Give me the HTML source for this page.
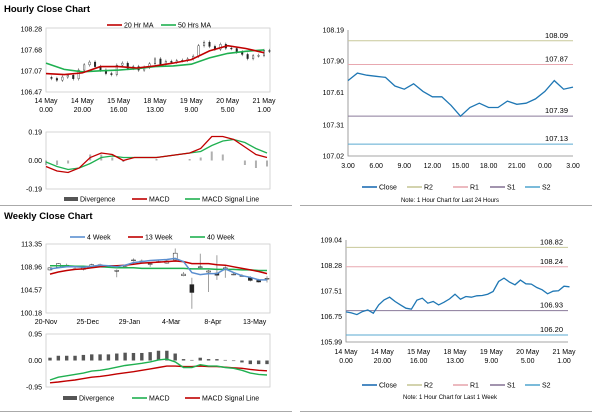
<!DOCTYPE html>
<html><head><meta charset="utf-8"><style>
body{margin:0;background:#fff;}
svg{display:block;font-family:"Liberation Sans",Arial,sans-serif;}
</style></head><body>
<svg id="c" width="600" height="413" viewBox="0 0 600 413"></svg>
<script>
// ---------- data ----------
const hourBars = [0,3,6,9,12,15,18,21,24,27,30,33,36,39,42,45,48,51,54,57,60,63,66,69,72,75,78,81,84,87,90,93,96,99,102,105,108,111,114,117,120,123];
const weekClose = [106.89,106.86,106.81,106.9,106.95,106.85,107.1,107.25,107.33,107.2,107.1,107.0,106.97,107.24,107.3,107.15,107.2,107.1,107.18,107.28,107.42,107.27,107.35,107.33,107.37,107.38,107.42,107.5,107.8,107.9,107.78,107.7,107.84,107.73,107.72,107.62,107.55,107.43,107.51,107.52,107.66,107.64];
const maBars = [0,10,20,30,40,50,60,70,80,90,100,110,120];
const ma20 = [107.0,106.97,107.02,107.2,107.2,107.16,107.22,107.3,107.4,107.65,107.8,107.72,107.6];
const ma50 = [107.3,107.12,107.05,107.08,107.1,107.14,107.2,107.22,107.27,107.45,107.58,107.64,107.68];
const macdBars = [0,6,12,18,24,30,36,42,48,54,60,66,72,78,84,90,96,102,108,114,120];
const hMacd = [-0.04,-0.07,-0.08,-0.05,0.02,0.05,0.04,0.0,0.02,0.02,0.02,0.03,0.04,0.05,0.08,0.16,0.16,0.14,0.09,0.04,0.02];
const hSignal = [-0.01,-0.04,-0.06,-0.05,-0.02,0.02,0.03,0.02,0.02,0.02,0.02,0.03,0.04,0.05,0.06,0.10,0.13,0.14,0.12,0.08,0.05];
const hDiv = [-0.03,-0.03,-0.02,0.0,0.04,0.04,0.02,-0.01,0.0,0.0,0.01,0.0,0.0,0.01,0.02,0.06,0.04,0.0,-0.03,-0.05,-0.04];
const hTicksX = ["14 May|0.00","14 May|20.00","15 May|16.00","18 May|13.00","19 May|9.00","20 May|5.00","21 May|1.00"];
const dayClose = [107.72,107.79,107.77,107.76,107.75,107.67,107.64,107.69,107.62,107.57,107.57,107.49,107.39,107.47,107.51,107.47,107.47,107.53,107.50,107.51,107.55,107.62,107.72,107.64,107.66];
const dayTicks = ["3.00","6.00","9.00","12.00","15.00","18.00","21.00","0.00","3.00"];
const dayLevels = [108.09,107.87,107.39,107.13];
const weekLevels = [108.82,108.24,106.93,106.20];
const levelNames = ["R2","R1","S1","S2"];
const wOpen  = [108.4,108.9,109.3,108.6,108.5,109.0,109.4,109.1,108.3,108.9,110.3,110.1,109.6,110.0,109.7,110.3,107.3,105.6,109.0,108.0,107.8,108.8,107.6,107.3,106.9,106.4,106.8];
const wClose = [108.8,109.6,109.1,108.6,108.8,109.4,109.1,109.0,108.3,109.0,110.3,110.1,109.6,110.0,110.1,111.6,107.6,104.1,109.0,108.2,107.4,108.8,107.6,107.3,106.4,106.1,106.8];
const wHigh  = [108.9,109.7,109.6,108.9,109.0,109.6,109.6,109.3,108.5,109.2,110.6,110.4,109.8,110.3,110.4,112.5,108.0,106.9,111.5,108.4,111.2,109.4,108.0,107.6,107.2,106.7,107.2];
const wLow   = [108.3,108.8,108.9,108.4,108.3,108.9,109.0,108.9,107.0,108.9,110.0,110.0,109.0,109.8,109.6,110.0,107.2,101.0,108.6,104.2,106.5,106.9,107.4,107.1,106.2,106.0,106.0];
const w4  = [108.6,108.8,109.0,109.0,108.9,109.1,109.3,109.2,109.0,109.3,109.8,110.0,110.2,110.3,110.4,110.6,110.0,107.9,107.5,107.7,107.7,108.6,107.9,107.3,107.0,106.5,106.5];
const w13 = [107.6,108.0,108.3,108.5,108.6,108.8,109.0,109.2,109.2,109.3,109.5,109.7,109.8,109.9,110.0,110.1,110.0,109.6,109.6,109.6,109.4,109.3,109.0,108.7,108.4,108.1,107.7];
const w40 = [109.2,109.2,109.2,109.1,109.1,109.0,109.0,108.9,108.8,108.8,108.8,108.7,108.7,108.7,108.7,108.7,108.7,108.6,108.6,108.6,108.5,108.5,108.5,108.4,108.4,108.3,108.3];
const wDiv = [0.1,0.17,0.17,0.17,0.2,0.22,0.22,0.22,0.25,0.28,0.27,0.27,0.3,0.35,0.35,0.25,0.05,0.02,0.1,0.05,0.05,0.02,-0.02,-0.07,-0.13,-0.13,-0.13];
const wMacd = [-0.7,-0.6,-0.55,-0.5,-0.45,-0.38,-0.35,-0.3,-0.24,-0.18,-0.14,-0.1,-0.05,0.02,0.05,-0.05,-0.25,-0.25,-0.15,-0.2,-0.2,-0.25,-0.28,-0.35,-0.45,-0.5,-0.52];
const wSignal = [-0.8,-0.77,-0.73,-0.7,-0.65,-0.6,-0.57,-0.53,-0.48,-0.44,-0.4,-0.35,-0.3,-0.25,-0.2,-0.2,-0.22,-0.22,-0.2,-0.22,-0.22,-0.24,-0.26,-0.28,-0.32,-0.35,-0.37];
const wTicks = ["20-Nov","25-Dec","29-Jan","4-Mar","8-Apr","13-May"];

// ---------- helpers ----------
const S = document.getElementById('c');
const NS = 'http://www.w3.org/2000/svg';
function mk(tag, a){const e=document.createElementNS(NS,tag);for(const k in a)e.setAttribute(k,a[k]);S.appendChild(e);return e;}
function txt(x,y,s,size,anchor,weight){const e=mk('text',{x:x,y:y,'font-size':size,'text-anchor':anchor||'start','font-weight':weight||'normal',fill:'#000'});e.textContent=s;return e;}
function lin(a,b,c,d){return v=>c+(v-a)/(b-a)*(d-c);}
function pathOf(xs,ys,fx,fy){return xs.map((x,i)=>(i?'L':'M')+fx(x).toFixed(1)+','+fy(ys[i]).toFixed(1)).join('');}

// ---------- titles / separators ----------
let e;
e=txt(4,12,'Hourly Close Chart',9.5,'start','bold');

e=txt(4,219,'Weekly Close Chart',9.5,'start','bold');

e=mk('line',{x1:0,y1:205.5,x2:292,y2:205.5,stroke:'#aaa'});

e=mk('line',{x1:300,y1:205.5,x2:592,y2:205.5,stroke:'#aaa'});

e=mk('line',{x1:0,y1:411.5,x2:292,y2:411.5,stroke:'#aaa'});

e=mk('line',{x1:300,y1:411.5,x2:592,y2:411.5,stroke:'#aaa'});


function frame(x0,y0,x1,y1,name){
  const r=mk('rect',{x:x0,y:y0,width:x1-x0,height:y1-y0,fill:'none',stroke:'#ccc','stroke-width':0.8});
  
}
function yTicks(vals,fy,x,name){
  vals.forEach(v=>{const t=txt(x-4,fy(v)+2.5,v.toFixed(2),7,'end');
    });
}
function legendLine(x,y,color,label,w){
  const l=mk('line',{x1:x,y1:y,x2:x+(w||15),y2:y,stroke:color,'stroke-width':1.6});
  
  const t=txt(x+(w||15)+2,y+2.5,label,7);
  
}
function legendBox(x,y,label){
  const r=mk('rect',{x:x,y:y-2,width:14,height:4,fill:'#555'});
  
  const t=txt(x+16,y+2.5,label,7);
  
}

// ---------- Hourly candles (top-left) ----------
{
  const fx=lin(0,120,46,264), fy=lin(106.47,108.28,92,29);
  frame(46,28,270,92,'hourly-plot-frame');
  yTicks([108.28,107.68,107.07,106.47],fy,46,'y-tick-label');
  hTicksX.forEach((s,i)=>{const p=s.split('|');const x=fx(i*20);
    const a=txt(x,103,p[0],7,'middle');
    const b=txt(x,112,p[1],7,'middle');});
  weekClose.forEach((c,i)=>{ if(!i) return; const o=weekClose[i-1];
    const x=fx(hourBars[i]); const hi=Math.max(o,c)+0.05, lo=Math.min(o,c)-0.05;
    const w=mk('line',{x1:x,y1:fy(hi),x2:x,y2:fy(lo),stroke:'#333','stroke-width':0.5});
    
    const b=mk('rect',{x:x-0.8,y:fy(Math.max(o,c)),width:1.6,height:Math.max(0.8,Math.abs(fy(o)-fy(c))),fill:c>=o?'#fff':'#222',stroke:'#222','stroke-width':0.4});
    });
  const g=mk('path',{d:pathOf(maBars,ma50,fx,fy),fill:'none',stroke:'#1fb050','stroke-width':1.6});
  
  const r=mk('path',{d:pathOf(maBars,ma20,fx,fy),fill:'none',stroke:'#c00000','stroke-width':1.6});
  
  legendLine(107,25,'#c00000','20 Hr MA');
  legendLine(161,25,'#1fb050','50 Hrs MA');
}
// ---------- Hourly MACD ----------
{
  const fx=lin(0,120,46,267), fy=lin(-0.19,0.19,189,132);
  frame(46,132,270,189,'hourly-macd-frame');
  yTicks([0.19,0.00,-0.19],fy,46,'y-tick-label');
  hDiv.forEach((v,i)=>{const x=fx(macdBars[i]);
    const b=mk('rect',{x:x-1,y:Math.min(fy(v),fy(0)),width:2,height:Math.abs(fy(v)-fy(0)),fill:'#b0b0b0'});
    });
  const g=mk('path',{d:pathOf(macdBars,hSignal,fx,fy),fill:'none',stroke:'#1fb050','stroke-width':1.3});
  
  const r=mk('path',{d:pathOf(macdBars,hMacd,fx,fy),fill:'none',stroke:'#c00000','stroke-width':1.3});
  
  legendBox(64,199,'Divergence');
  legendLine(132,199,'#c00000','MACD');
  legendLine(185,199,'#1fb050','MACD Signal Line');
}
// ---------- Levels chart helper ----------
function levelsChart(xs,vals,fx,fy,ticks,levels,x0,x1,y1,xTickFn,legY,note,noteY,pfx){
  const ax=mk('path',{d:`M${x0},${fy(ticks[0])}L${x0},${y1}L${x1},${y1}`,fill:'none',stroke:'#888','stroke-width':0.8});
  
  yTicks(ticks,fy,x0,'y-tick-label');
  xTickFn();
  const cols=['#c8c89a','#e8a8b0','#8a7a9a','#5aaad0'];
  levels.forEach((v,i)=>{
    const l=mk('line',{x1:x0,y1:fy(v),x2:x1,y2:fy(v),stroke:cols[i],'stroke-width':1});
    
    const t=txt(x1-5,fy(v)-3,v.toFixed(2),7.5,'end');
    });
  const p=mk('path',{d:pathOf(xs,vals,fx,fy),fill:'none',stroke:'#1f77b4','stroke-width':1.3});
  
  legendLine(362,legY,'#1f6eb4','Close');
  levelNames.forEach((n,i)=>legendLine([407,453,490,525][i],legY,cols[i],n));
  const t=txt(450,noteY,note,6,'middle');
  
}
// ---------- 24h chart (top-right) ----------
{
  const fx=lin(0,24,348,573), fy=lin(107.02,108.19,156,30);
  const xs=dayClose.map((v,i)=>i);
  levelsChart(xs,dayClose,fx,fy,[108.19,107.90,107.61,107.31,107.02],dayLevels,348,573,156,()=>{
    dayTicks.forEach((s,i)=>{const t=txt(fx(i*3),168,s,7,'middle');
      });
  },187,'Note: 1 Hour Chart for Last 24 Hours',202,'day');
}
// ---------- week chart (bottom-right) ----------
{
  const fx=lin(0,120,346,564), fy=lin(105.99,109.04,342,240);
  levelsChart(hourBars,weekClose,fx,fy,[109.04,108.28,107.51,106.75,105.99],weekLevels,346,568,342,()=>{
    hTicksX.forEach((s,i)=>{const p=s.split('|');const x=fx(i*20);
      const a=txt(x,354,p[0],7,'middle');
      const b=txt(x,363,p[1],7,'middle');});
  },385,'Note: 1 Hour Chart for Last 1 Week',399,'week');
}
// ---------- Weekly candles (bottom-left) ----------
{
  const fx=lin(0,26,50,267), fy=lin(100.18,113.35,313,244);
  frame(46,244,270,313,'weekly-plot-frame');
  yTicks([113.35,108.96,104.57,100.18],fy,46,'y-tick-label');
  wTicks.forEach((s,i)=>{const t=txt(fx(i*5)-4,324,s,7,'middle');
    });
  wOpen.forEach((o,i)=>{const c=wClose[i],x=fx(i);
    const w=mk('line',{x1:x,y1:fy(wHigh[i]),x2:x,y2:fy(wLow[i]),stroke:'#777','stroke-width':0.7});
    
    const b=mk('rect',{x:x-2,y:fy(Math.max(o,c)),width:4,height:Math.max(0.8,Math.abs(fy(o)-fy(c))),fill:c>=o?'#fff':'#222',stroke:'#222','stroke-width':0.5});
    });
  const xs=w4.map((v,i)=>i);
  const g=mk('path',{d:pathOf(xs,w40,fx,fy),fill:'none',stroke:'#1fb050','stroke-width':1.5});
  
  const r=mk('path',{d:pathOf(xs,w13,fx,fy),fill:'none',stroke:'#c00000','stroke-width':1.5});
  
  const b=mk('path',{d:pathOf(xs,w4,fx,fy),fill:'none',stroke:'#5b8fd0','stroke-width':1.5});
  
  legendLine(70,237,'#5b8fd0','4 Week');
  legendLine(128,237,'#c00000','13 Week');
  legendLine(190,237,'#1fb050','40 Week');
}
// ---------- Weekly MACD ----------
{
  const fx=lin(0,26,50,267), fy=lin(-0.95,0.95,387,334);
  frame(46,334,270,387,'weekly-macd-frame');
  yTicks([0.95,0.00,-0.95],fy,46,'y-tick-label');
  wDiv.forEach((v,i)=>{const x=fx(i);
    const b=mk('rect',{x:x-1.7,y:Math.min(fy(v),fy(0)),width:3.4,height:Math.abs(fy(v)-fy(0)),fill:'#555'});
    });
  const xs=wMacd.map((v,i)=>i);
  const r=mk('path',{d:pathOf(xs,wSignal,fx,fy),fill:'none',stroke:'#c00000','stroke-width':1.4});
  
  const g=mk('path',{d:pathOf(xs,wMacd,fx,fy),fill:'none',stroke:'#1fb050','stroke-width':1.4});
  
  legendBox(63,398,'Divergence');
  legendLine(132,398,'#1fb050','MACD');
  legendLine(185,398,'#c00000','MACD Signal Line');
}
</script>
</body></html>
